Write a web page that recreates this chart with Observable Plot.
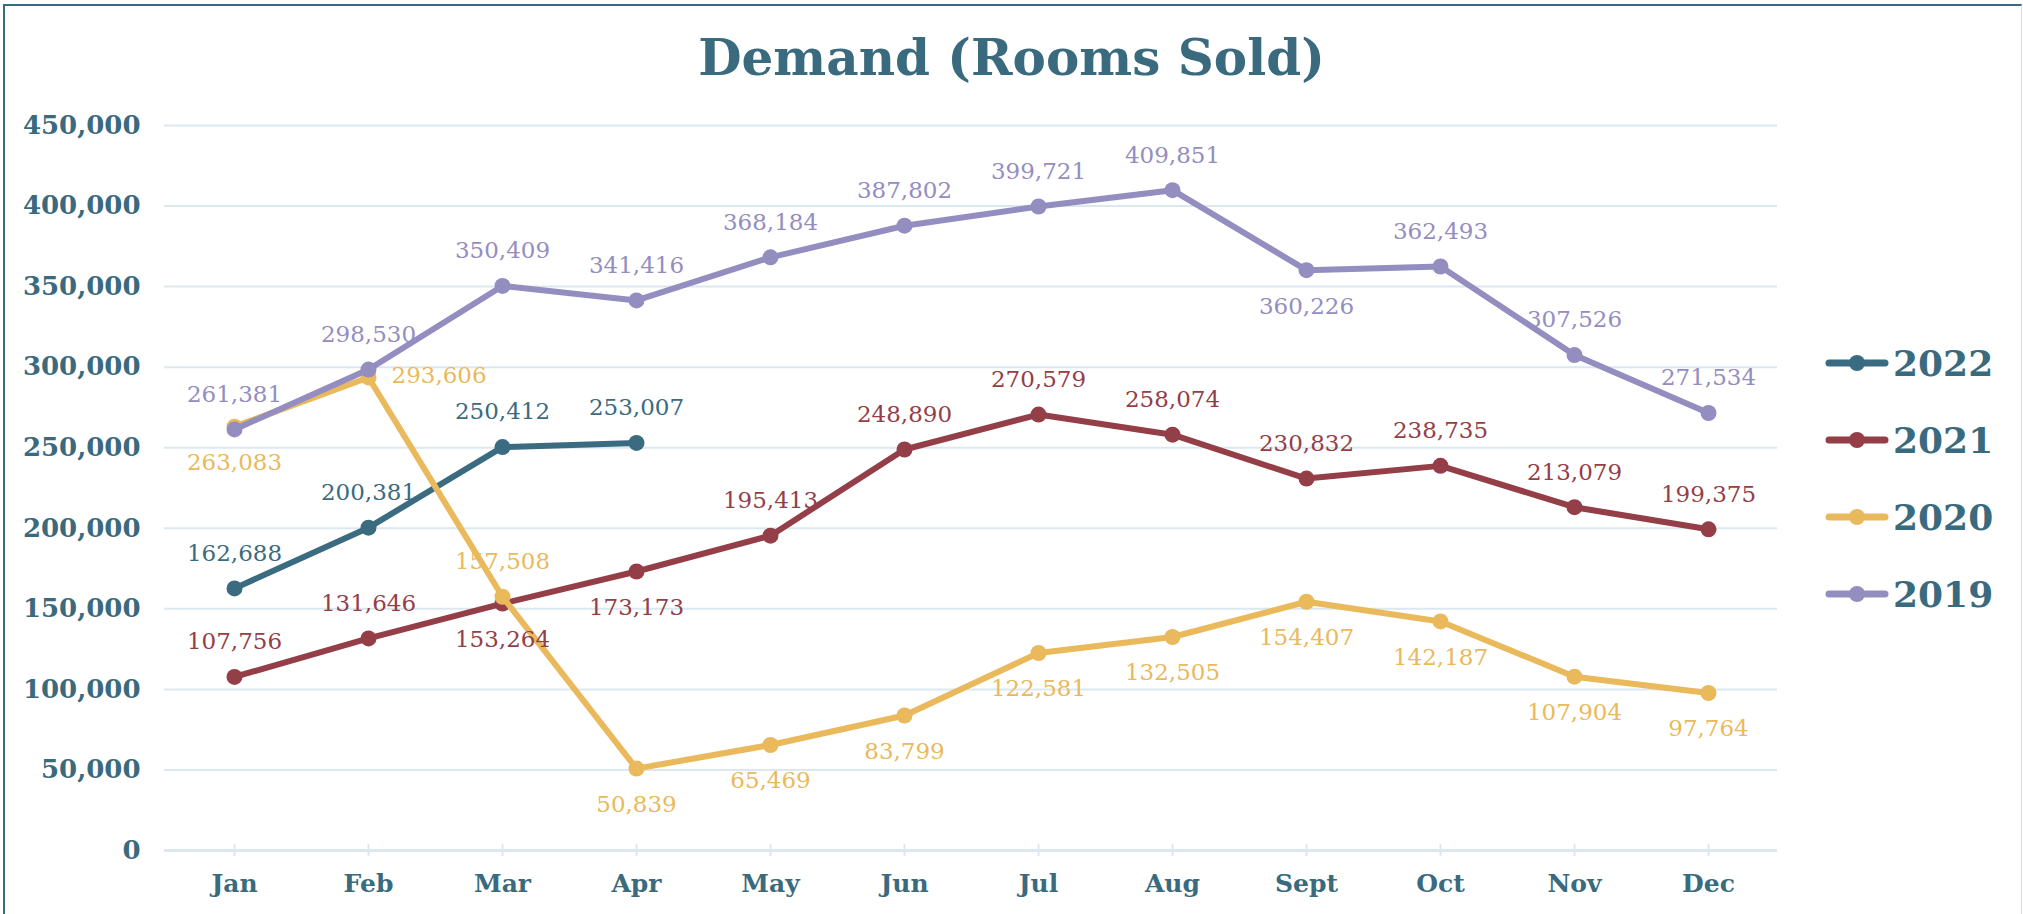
<!DOCTYPE html>
<html>
<head>
<meta charset="utf-8">
<script src="https://cdn.jsdelivr.net/npm/d3@7"></script>
<script src="https://cdn.jsdelivr.net/npm/@observablehq/plot@0.6"></script>
<style>
  html, body { margin: 0; padding: 0; background: #fff; }
  #wrap { position: relative; width: 2023px; height: 914px; overflow: hidden; background: #fff; font-family: "DejaVu Serif", serif; }
  #frame { position: absolute; left: 3px; top: 4px; right: 1px; bottom: -20px; border-top: 2px solid #3a6a7e; border-left: 2px solid #3a6a7e; border-right: 1px solid #d3dee6; pointer-events: none; }
  #title { height: 100px; box-sizing: border-box; padding-top: 33px; font-size: 50px; line-height: 50px; font-weight: bold; color: #3a6a7e; text-align: center; }
  #legend { position: absolute; left: 1825px; top: 324px; }
  .lg-row { height: 77px; display: flex; align-items: center; }
  .lg-row span { font-size: 36px; font-weight: bold; color: #3a6a7e; margin-left: 4px; }
</style>
</head>
<body>
<div id="wrap">
  <div id="title">Demand (Rooms Sold)</div>
  <div id="chart"></div>
  <div id="legend"></div>
  <div id="frame"></div>
</div>
<script>
const months = ["Jan","Feb","Mar","Apr","May","Jun","Jul","Aug","Sept","Oct","Nov","Dec"];
const years = ["2022","2021","2020","2019"];
const colors = ["#3a6b80","#943e48","#e9b95c","#948dbf"];
const yTicks = [0, 50000, 100000, 150000, 200000, 250000, 300000, 350000, 400000, 450000];

const v2022 = [162688, 200381, 250412, 253007];
const v2021 = [107756, 131646, 153264, 173173, 195413, 248890, 270579, 258074, 230832, 238735, 213079, 199375];
const v2020 = [263083, 293606, 157508, 50839, 65469, 83799, 122581, 132505, 154407, 142187, 107904, 97764];
const v2019 = [261381, 298530, 350409, 341416, 368184, 387802, 399721, 409851, 360226, 362493, 307526, 271534];

// label placement relative to the point: a = above, b = below, r = right
const side2022 = ["a","a","a","a"];
const side2021 = ["a","a","b","b","a","a","a","a","a","a","a","a"];
const side2020 = ["b","r","a","b","b","b","b","b","b","b","b","b"];
const side2019 = ["a","a","a","a","a","a","a","a","b","a","a","a"];

const series = [
  {year: "2022", values: v2022, sides: side2022},
  {year: "2021", values: v2021, sides: side2021},
  {year: "2020", values: v2020, sides: side2020},
  {year: "2019", values: v2019, sides: side2019}
];
const rows = series.flatMap(s => s.values.map((v, i) => ({year: s.year, month: months[i], value: v, side: s.sides[i]})));

const teal = "#3a6a7e";
const grid = "#dce8f0";
const fmt = d3.format(",");

const marks = [
  Plot.ruleY(yTicks, {stroke: grid, strokeWidth: 2}),
  Plot.ruleY([0], {stroke: grid, strokeWidth: 3}),
  Plot.axisY({ticks: yTicks, tickSize: 0, tickPadding: 24, tickFormat: fmt, fontSize: 26, fontWeight: "bold", fill: teal}),
  Plot.axisX({tickSize: 12, dy: -6, tickPadding: 18, fontSize: 25, fontWeight: "bold", stroke: grid, strokeWidth: 2, fill: teal})
];
for (const s of series) {
  const d = rows.filter(r => r.year === s.year);
  marks.push(Plot.line(d, {x: "month", y: "value", stroke: "year", strokeWidth: 6, strokeLinejoin: "round", strokeLinecap: "round"}));
  marks.push(Plot.dot(d, {x: "month", y: "value", fill: "year", r: 8}));
}
marks.push(Plot.text(rows.filter(r => r.side === "a"), {x: "month", y: "value", text: d => fmt(d.value), fill: "year", dy: -35, fontSize: 23}));
marks.push(Plot.text(rows.filter(r => r.side === "b"), {x: "month", y: "value", text: d => fmt(d.value), fill: "year", dy: 36, fontSize: 23}));
marks.push(Plot.text(rows.filter(r => r.side === "r"), {x: "month", y: "value", text: d => fmt(d.value), fill: "year", dx: 23, dy: -2, textAnchor: "start", fontSize: 23}));

const chart = Plot.plot({
  width: 2023,
  height: 814,
  marginTop: 25,
  marginBottom: 64,
  marginLeft: 164,
  marginRight: 246,
  style: {fontFamily: "'DejaVu Serif', serif", background: "transparent", overflow: "visible"},
  x: {type: "point", domain: months, padding: 0.5, label: null},
  y: {domain: [0, 450000], label: null},
  color: {domain: years, range: colors},
  marks
});
document.getElementById("chart").appendChild(chart);

// legend
const legend = document.getElementById("legend");
years.forEach((y, i) => {
  const row = document.createElement("div");
  row.className = "lg-row";
  row.innerHTML = `<svg width="64" height="20"><line x1="4" y1="10" x2="60" y2="10" stroke="${colors[i]}" stroke-width="7" stroke-linecap="round"/><circle cx="32" cy="10" r="8" fill="${colors[i]}"/></svg><span>${y}</span>`;
  legend.appendChild(row);
});
</script>
</body>
</html>
